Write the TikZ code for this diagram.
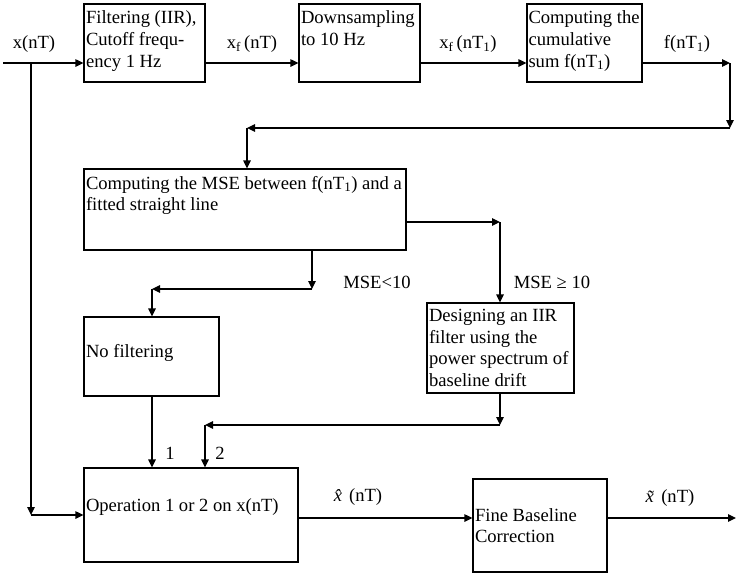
\documentclass[tikz,border=0pt]{standalone}
\usepackage{fontspec}
\setmainfont{Liberation Serif}
\usetikzlibrary{arrows.meta}

\begin{document}
\begin{tikzpicture}[x=1pt, y=-1pt, ->, >={Triangle[length=8pt,width=7.5pt]}, line width=1.2pt,
    block node/.style={draw, rectangle, inner sep=0pt},
    top text/.style={anchor=north west, inner xsep=2pt, inner ysep=7pt, align=left},
    side text/.style={anchor=west, inner xsep=2pt, align=left}]
  \tikzstyle{every node}=[font=\fontsize{18.6}{21.7}\selectfont]
  \useasboundingbox (0,0) rectangle (737,574);

  % blocks
  \node[block node, minimum width=121pt, minimum height=78pt,
    label={[top text]north west:{Filtering (IIR),\\Cutoff frequ-\\ency 1 Hz}}] (1) at (144.5,43) {};
  \node[block node, minimum width=121pt, minimum height=78pt,
    label={[top text]north west:{Downsampling\\to 10 Hz}}] (2) at (359.5,43) {};
  \node[block node, minimum width=115pt, minimum height=78pt,
    label={[top text, inner xsep=1.5pt]north west:{Computing the\\cumulative\\sum f(nT\textsubscript{1})}}] (3) at (584.5,43) {};
  \node[block node, minimum width=322pt, minimum height=81pt,
    label={[top text]north west:{Computing the MSE between f(nT\textsubscript{1}) and a\\fitted straight line}}] (4) at (245,209.5) {};
  \node[block node, minimum width=147pt, minimum height=90pt,
    label={[top text, inner ysep=6pt]north west:{Designing an IIR\\filter using the\\power spectrum of\\baseline drift}}] (5) at (500.5,348) {};
  \node[block node, minimum width=135pt, minimum height=79pt,
    label={[side text, yshift=4pt]west:{No filtering}}] (6) at (151.5,356.5) {};
  \node[block node, minimum width=214pt, minimum height=94pt,
    label={[side text, yshift=8pt]west:{Operation 1 or 2 on x(nT)}}] (7) at (191,515) {};
  \node[block node, minimum width=134pt, minimum height=93pt,
    label={[side text]west:{Fine Baseline\\Correction}}] (8) at (540,525.5) {};

  % signal names
  \node (xin) at (34,44) {x(nT)};
  \node (xf) at (252,44) {x\textsubscript{f}\,(nT)};
  \node (xf1) at (468,44) {x\textsubscript{f}\,(nT\textsubscript{1})};
  \node (f1) at (687,44) {f(nT\textsubscript{1})};
  \node (low) at (377,282) {MSE<10};
  \node (high) at (552,282) {MSE ≥ 10};
  \node (one) at (170,453) {1};
  \node (two) at (220,453) {2};
  \node (xhat) at (358,497) {\textit{\^{x}}(nT)};
  \node (xtil) at (670,498) {\textit{\~{x}}(nT)};

  \coordinate (in) at (3,63);
  \coordinate (split) at (31,63);
  \coordinate (c1) at (730,63);
  \coordinate (c2) at (730,128);
  \coordinate (c3) at (247,128);
  \coordinate (c4) at (500,222);
  \coordinate (c5) at (312,289);
  \coordinate (c6) at (152,289);
  \coordinate (c7) at (500,425);
  \coordinate (c8) at (205,425);
  \coordinate (c9) at (31,515);
  \coordinate (out) at (736,518);

  % connectors
  \draw (in) -- (1.west |- in);
  \draw (1.east |- in) -- (2.west |- in);
  \draw (2.east |- in) -- (3.west |- in);
  \draw (3.east |- in) -- (c1);
  \draw (c1) -- (c2);
  \draw (c2) -- (c3);
  \draw (c3) -- (c3 |- 4.north);
  \draw (4.east |- c4) -- (c4);
  \draw (c4) -- (c4 |- 5.north);
  \draw (c5 |- 4.south) -- (c5);
  \draw (c5) -- (c6);
  \draw (c6) -- (c6 |- 6.north);
  \draw (c7 |- 5.south) -- (c7);
  \draw (c7) -- (c8);
  \draw (c8) -- (c8 |- 7.north);
  \draw (c6 |- 6.south) -- (c6 |- 7.north);
  \draw (split) -- (c9);
  \draw (c9) -- (c9 -| 7.west);
  \draw (7.east |- out) -- (8.west |- out);
  \draw (8.east |- out) -- (out);
\end{tikzpicture}
\end{document}
